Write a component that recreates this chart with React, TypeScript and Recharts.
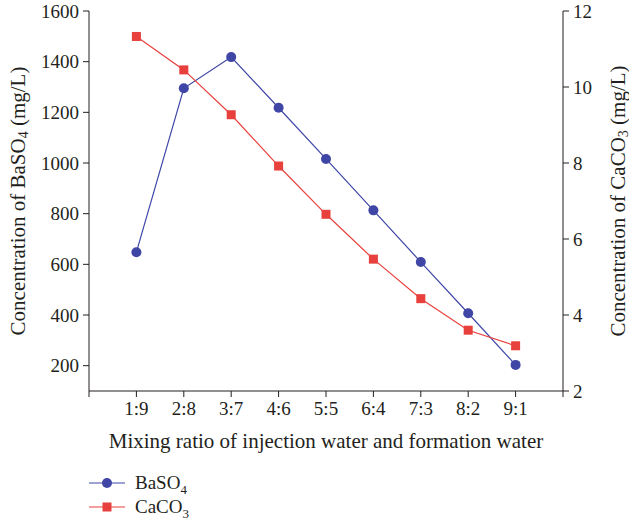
import * as React from "react"
import { Line, LineChart, XAxis, YAxis } from "recharts"

const ratios = ["1:9", "2:8", "3:7", "4:6", "5:5", "6:4", "7:3", "8:2", "9:1"]
const baso4 = [648, 1295, 1418, 1218, 1016, 813, 609, 407, 203]
const caco3 = [11.33, 10.45, 9.27, 7.92, 6.65, 5.47, 4.43, 3.6, 3.19]
const xTicks = [0, 1, 2, 3, 4, 5, 6, 7, 8, 9, 10]
const leftTicks = [200, 400, 600, 800, 1000, 1200, 1400, 1600]
const rightTicks = [2, 4, 6, 8, 10, 12]

const BLUE = "#3f46a6"
const RED = "#e8403d"
const INK = "#231f20"
const FONT = "'Liberation Serif', 'Times New Roman', serif"

const data = ratios.map((r, i) => ({ x: i + 1, ratio: r, baso4: baso4[i], caco3: caco3[i] }))

const tickStyle = { fill: INK, fontSize: 19, fontFamily: FONT }

function LeftTitle({ viewBox }: any) {
    const cx = 18
    const cy = viewBox.y + viewBox.height / 2
    return (
        <text
            x={cx}
            y={cy}
            transform={`rotate(-90, ${cx}, ${cy})`}
            textAnchor="middle"
            dominantBaseline="central"
            fill={INK}
            fontSize={21}
            fontFamily={FONT}
        >
            Concentration of BaSO
            <tspan fontSize={14} dy={5}>4</tspan>
            <tspan dy={-5}> (mg/L)</tspan>
        </text>
    )
}

function RightTitle({ viewBox }: any) {
    const cx = 618
    const cy = viewBox.y + viewBox.height / 2
    return (
        <text
            x={cx}
            y={cy}
            transform={`rotate(-90, ${cx}, ${cy})`}
            textAnchor="middle"
            dominantBaseline="central"
            fill={INK}
            fontSize={21}
            fontFamily={FONT}
        >
            Concentration of CaCO
            <tspan fontSize={14} dy={5}>3</tspan>
            <tspan dy={-5}> (mg/L)</tspan>
        </text>
    )
}

function BottomTitle({ viewBox }: any) {
    const cx = viewBox.x + viewBox.width / 2
    return (
        <text
            x={cx}
            y={viewBox.y + 57}
            textAnchor="middle"
            fill={INK}
            fontSize={21}
            fontFamily={FONT}
        >
            Mixing ratio of injection water and formation water
        </text>
    )
}

function SquareDot(props: any) {
    const { cx, cy, index } = props
    if (cx == null || cy == null) return null
    return <rect key={index} x={cx - 4.5} y={cy - 4.5} width={9} height={9} fill={RED} />
}

function LegendRow({ color, square, name, sub }: any) {
    return (
        <div style={{ display: "flex", alignItems: "center", height: 24 }}>
            <svg width={36} height={14} style={{ marginRight: 10 }}>
                <line x1={0} y1={7} x2={36} y2={7} stroke={color} strokeWidth={1.2} />
                {square ? (
                    <rect x={13.5} y={2.5} width={9} height={9} fill={color} />
                ) : (
                    <circle cx={18} cy={7} r={5} fill={color} />
                )}
            </svg>
            <span style={{ fontSize: 19, color: INK, lineHeight: "24px" }}>
                {name}
                <sub style={{ fontSize: 13, lineHeight: 0 }}>{sub}</sub>
            </span>
        </div>
    )
}

export default function App() {
    return (
        <div style={{ position: "absolute", left: 0, top: 0, width: 629, height: 526, background: "#fff", fontFamily: FONT }}>
            <LineChart width={629} height={526} data={data} margin={{ top: 11, right: 0, bottom: 75, left: 0 }}>
                <XAxis
                    type="number"
                    dataKey="x"
                    domain={[0, 10]}
                    ticks={xTicks}
                    interval={0}
                    tickFormatter={(v: number) => ratios[v - 1] ?? ""}
                    tick={tickStyle}
                    tickSize={6}
                    tickMargin={5}
                    height={60}
                    stroke={INK}
                    axisLine={{ stroke: INK }}
                    tickLine={{ stroke: INK }}
                    label={<BottomTitle />}
                />
                <YAxis
                    yAxisId="left"
                    width={89}
                    domain={[100, 1600]}
                    ticks={leftTicks}
                    interval={0}
                    tick={tickStyle}
                    tickSize={6}
                    tickMargin={4}
                    stroke={INK}
                    axisLine={{ stroke: INK }}
                    tickLine={{ stroke: INK }}
                    label={<LeftTitle />}
                />
                <YAxis
                    yAxisId="right"
                    orientation="right"
                    width={66}
                    domain={[2, 12]}
                    ticks={rightTicks}
                    interval={0}
                    tick={tickStyle}
                    tickSize={6}
                    tickMargin={4}
                    stroke={INK}
                    axisLine={{ stroke: INK }}
                    tickLine={{ stroke: INK }}
                    label={<RightTitle />}
                />
                <Line
                    yAxisId="left"
                    type="linear"
                    dataKey="baso4"
                    stroke={BLUE}
                    strokeWidth={1.2}
                    dot={{ r: 5, fill: BLUE, stroke: "none" }}
                    isAnimationActive={false}
                />
                <Line
                    yAxisId="right"
                    type="linear"
                    dataKey="caco3"
                    stroke={RED}
                    strokeWidth={1.2}
                    dot={<SquareDot />}
                    isAnimationActive={false}
                />
            </LineChart>
            <div style={{ position: "absolute", left: 89, top: 471 }}>
                <LegendRow color={BLUE} name="BaSO" sub="4" />
                <LegendRow color={RED} square name="CaCO" sub="3" />
            </div>
        </div>
    )
}
